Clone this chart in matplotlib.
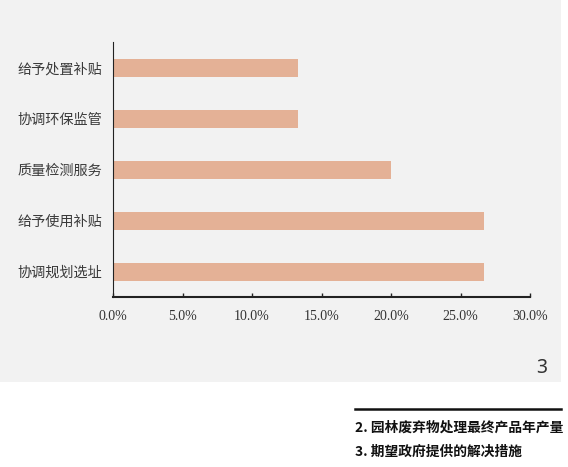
import matplotlib
matplotlib.use("Agg")
import matplotlib.pyplot as plt
from matplotlib.patches import Rectangle
from matplotlib.lines import Line2D

# data (bottom to top)
measures = ["协调规划选址", "给予使用补贴", "质量检测服务", "协调环保监管", "给予处置补贴"]
shares = [0.267, 0.267, 0.200, 0.133, 0.133]
xticks = [0.0, 0.05, 0.10, 0.15, 0.20, 0.25, 0.30]
notes = ["2. 园林废弃物处理最终产品年产量", "3. 期望政府提供的解决措施"]

W, H = 568, 467
fig = plt.figure(figsize=(W / 100, H / 100), dpi=100)
fig.patch.set_facecolor("white")

# grey panel behind the chart
fig.add_artist(Rectangle((0, 1 - 382 / H), 561 / W, 382 / H,
                         transform=fig.transFigure, facecolor="#f2f2f2",
                         edgecolor="none", zorder=0))

ax = fig.add_axes([113 / W, 1 - 296.5 / H, 417 / W, 254.5 / H])
ax.set_facecolor("none")
ax.barh(range(len(measures)), shares, height=0.354, color="#e4b196")
ax.set_xlim(0, 0.30)
ax.set_ylim(-0.487, 4.51)
ax.set_yticks(range(len(measures)))
ax.set_yticklabels(measures, family=["Noto Sans CJK SC", "DejaVu Sans"],
                   fontsize=10.2, color="#3a3a3a")
ax.set_xticks(xticks)
ax.set_xticklabels([f"{v * 100:.1f}%" for v in xticks],
                   family="Liberation Serif", fontsize=10, color="#333333")
ax.tick_params(axis="y", length=0, pad=8)
ax.tick_params(axis="x", direction="in", length=3, width=1, pad=10, color="#222222")
for s in ["top", "right"]:
    ax.spines[s].set_visible(False)
ax.spines["left"].set_color("#222222")
ax.spines["bottom"].set_color("#222222")
ax.spines["bottom"].set_linewidth(1.5)

# page number
fig.text(542 / W, 1 - 368 / H, "3", ha="center", va="center",
         fontsize=14, color="#333333", family="Noto Sans")

# notes under the panel
fig.add_artist(Line2D([355 / W, 561 / W], [1 - 409 / H, 1 - 409 / H],
                      transform=fig.transFigure, color="#111111", lw=1.8))
for i, t in enumerate(notes):
    fig.text(355 / W, 1 - (428 + 24 * i) / H, t, ha="left", va="center",
             fontsize=9.9, fontweight="bold", color="#111111",
             family=["Noto Sans CJK SC", "DejaVu Sans"])

fig.savefig("out.png", dpi=100)
